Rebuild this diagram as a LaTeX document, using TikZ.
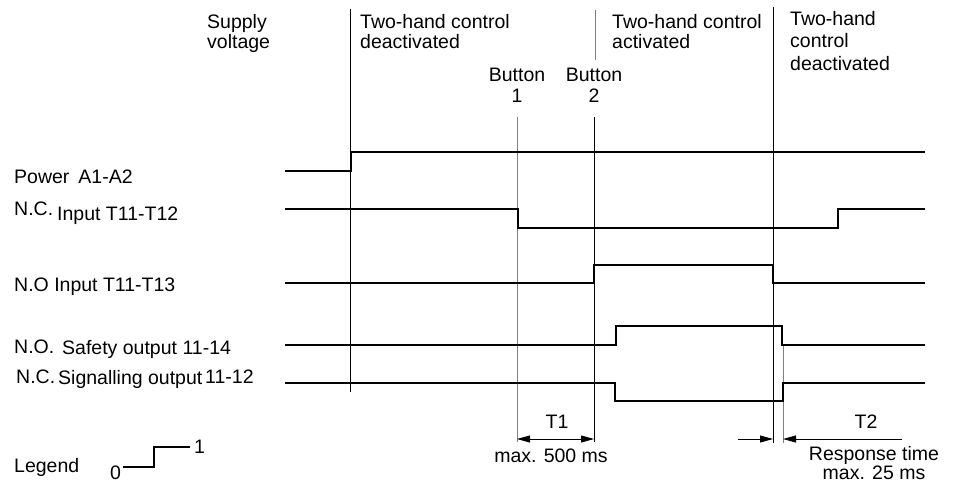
\documentclass[tikz,border=0pt]{standalone}
\usepackage{fontspec}
\setmainfont{Liberation Sans}
\usetikzlibrary{arrows.meta}
\begin{document}
\begin{tikzpicture}[x=1pt,y=-1pt,
  sig/.style={line width=2pt, line join=miter},
  vline/.style={line width=1pt, draw=black},
  gline/.style={line width=1pt, draw=black!50},
  lbl/.style={font=\fontsize{19.5}{21}\selectfont, inner sep=0pt, anchor=base west},
  clbl/.style={font=\fontsize{19.5}{21}\selectfont, inner sep=0pt, anchor=base},
  dim/.style={line width=0.8pt, arrows={-Triangle[length=13pt,width=7pt]}},
  ddim/.style={line width=0.8pt, arrows={Triangle[length=13pt,width=7pt]-Triangle[length=13pt,width=7pt]}}]
\useasboundingbox (0,0) rectangle (956,484);

% vertical marker lines
\coordinate (v1t) at (350,9);    \coordinate (v1b) at (350,392);
\coordinate (b1t) at (517,117);  \coordinate (b1b) at (517,442);
\coordinate (b2t) at (594,117);  \coordinate (b2b) at (594,442);
\coordinate (a2t) at (595,10);   \coordinate (a2b) at (595,60);
\coordinate (v3t) at (773,7);    \coordinate (v3b) at (773,443);
\coordinate (r1t) at (783,345);  \coordinate (r1b) at (783,443);
\draw[vline] (v1t) -- (v1b);
\draw[gline] (b1t) -- (b1b);
\draw[vline] (b2t) -- (b2b);
\draw[gline] (a2t) -- (a2b);
\draw[vline] (v3t) -- (v3b);
\draw[gline] (r1t) -- (r1b);

% signals
\draw[sig] (285,171) -- (351,171) -- (351,152) -- (925,152);
\draw[sig] (285,209) -- (518,209) -- (518,228) -- (838,228) -- (838,209) -- (925,209);
\draw[sig] (285,283) -- (594,283) -- (594,265) -- (773,265) -- (773,283) -- (925,283);
\draw[sig] (285,345) -- (616,345) -- (616,326) -- (782,326) -- (782,345) -- (925,345);
\draw[sig] (285,383) -- (615,383) -- (615,401) -- (783,401) -- (783,383) -- (925,383);

% top labels
\node[lbl] (sup1) at (207,29) {Supply};
\node[lbl] (sup2) at (207,49) {voltage};
\node[lbl] (d1a) at (360,29) {Two-hand control};
\node[lbl] (d1b) at (360,49) {deactivated};
\node[lbl] (act1) at (612,29) {Two-hand control};
\node[lbl] (act2) at (612,49) {activated};
\node[lbl] (d2a) at (790,26) {Two-hand};
\node[lbl] (d2b) at (790,48) {control};
\node[lbl] (d2c) at (790,71) {deactivated};
\node[clbl] (bt1a) at (517,82) {Button};
\node[clbl] (bt1b) at (517,103) {1};
\node[clbl] (bt2a) at (594,82) {Button};
\node[clbl] (bt2b) at (594,103) {2};

% left labels
\node[lbl] (pw) at (14,183) {Power\hspace{9pt}A1-A2};
\node[lbl] (nc1) at (14,215) {N.C.};
\node[lbl] (in1) at (57,220) {Input T11-T12};
\node[lbl] (no1) at (14,291.5) {N.O Input T11-T13};
\node[lbl] (no2) at (14,353) {N.O.};
\node[lbl] (so) at (62,354.5) {Safety output 11-14};
\node[lbl] (nc2) at (16,383) {N.C.};
\node[lbl] (sg) at (58,384.5) {Signalling output};
\node[lbl] (sgn) at (205,383.5) {11-12};

% legend
\node[lbl] (leg) at (14,472) {Legend};
\node[lbl] (l0) at (110,479) {0};
\node[lbl] (l1) at (194,453) {1};
\coordinate (lg1) at (123,467);
\coordinate (lg2) at (190,447);
\draw[sig] (lg1) -- (154,467) |- (lg2);

% timing dimensions
\coordinate (t1a) at (517,439);
\coordinate (t1b) at (594,439);
\draw[ddim] (t1a) -- (t1b);
\node[clbl] (t1) at (557,428) {T1};
\node[clbl] (t1m) at (551,462) {max. 500 ms};

\coordinate (t2l) at (738,439);
\coordinate (t2r) at (902,439);
\draw[dim] (t2l) -- (773,439);
\draw[dim] (t2r) -- (783,439);
\node[clbl] (t2) at (866,428) {T2};
\node[clbl] (rt) at (874,460.5) {Response time};
\node[clbl] (rtm) at (874,479) {max. 25 ms};
\end{tikzpicture}
\end{document}
